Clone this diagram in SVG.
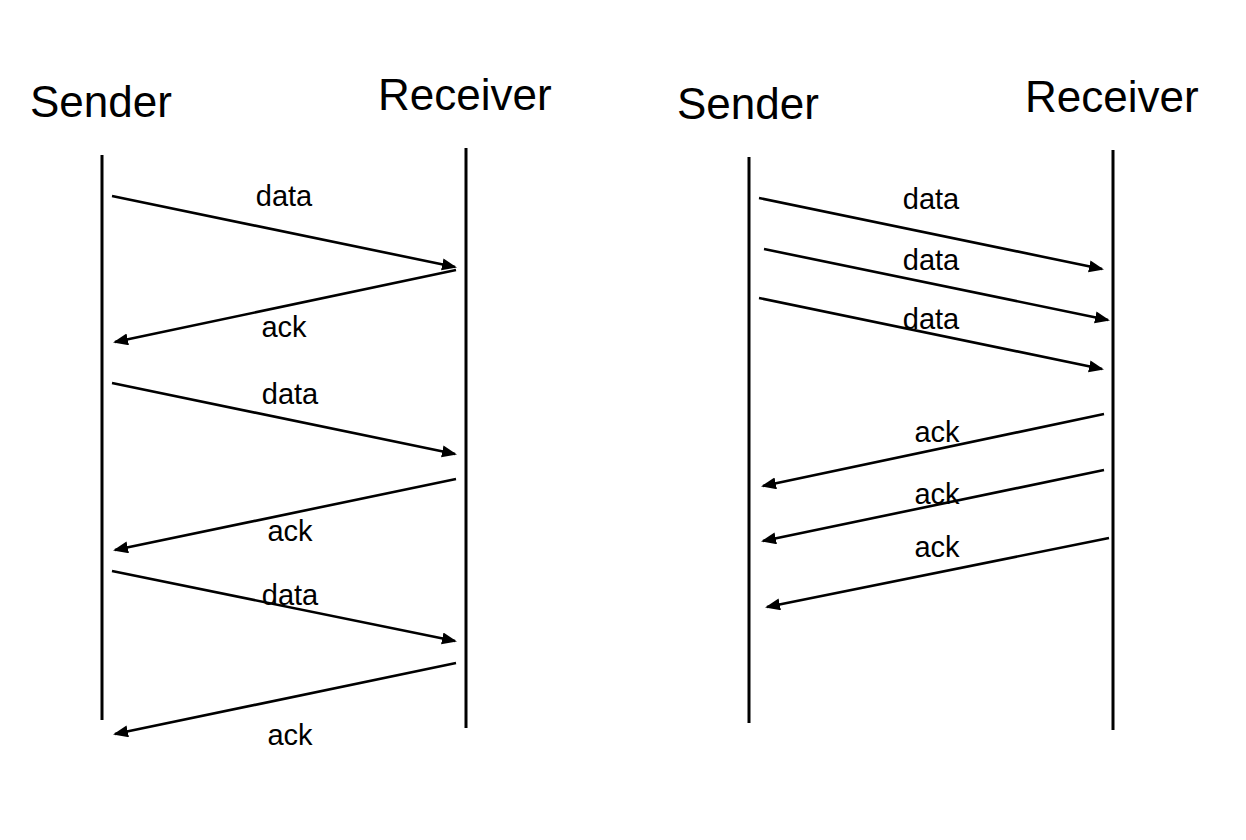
<svg xmlns="http://www.w3.org/2000/svg" width="1246" height="840" viewBox="0 0 1246 840">
<style>
.title{font-family:"Liberation Sans",Arial,sans-serif;font-size:44px;fill:#000}
.lbl{font-family:"Liberation Sans",Arial,sans-serif;font-size:29px;fill:#000;text-anchor:middle}
.life{stroke:#000;stroke-width:3;fill:none}
.msg{stroke:#000;stroke-width:2.6;fill:none;marker-end:url(#ah)}
</style>
<defs>
<marker id="ah" markerUnits="userSpaceOnUse" markerWidth="16" markerHeight="14" refX="13" refY="6" orient="auto">
<path d="M0,0 L15,6 L0,12 Z" fill="#000"/>
</marker>
</defs>
<rect width="1246" height="840" fill="#fff"/>
<g id="left-sender">
<text class="title" x="30" y="117">Sender</text>
<line class="life" x1="102" y1="155" x2="102" y2="720"/>
</g>
<g id="left-receiver">
<text class="title" x="378" y="110">Receiver</text>
<line class="life" x1="466" y1="148" x2="466" y2="728"/>
</g>
<g id="right-sender">
<text class="title" x="677" y="119">Sender</text>
<line class="life" x1="749" y1="157" x2="749" y2="723"/>
</g>
<g id="right-receiver">
<text class="title" x="1025" y="112">Receiver</text>
<line class="life" x1="1113" y1="150" x2="1113" y2="730"/>
</g>
<g id="connectors">
<line class="msg" x1="112" y1="196" x2="455" y2="267"/>
<line class="msg" x1="456" y1="270" x2="115" y2="342"/>
<line class="msg" x1="112" y1="383" x2="455" y2="454"/>
<line class="msg" x1="456" y1="479" x2="115" y2="550"/>
<line class="msg" x1="112" y1="571" x2="455" y2="641"/>
<line class="msg" x1="456" y1="663" x2="115" y2="734"/>
<line class="msg" x1="759" y1="198" x2="1102" y2="269"/>
<line class="msg" x1="764" y1="249" x2="1108" y2="320"/>
<line class="msg" x1="759" y1="298" x2="1102" y2="369"/>
<line class="msg" x1="1104" y1="414" x2="763" y2="486"/>
<line class="msg" x1="1104" y1="470" x2="763" y2="541"/>
<line class="msg" x1="1109" y1="538" x2="767" y2="607"/>
</g>
<g id="labels">
<text class="lbl" x="284" y="206">data</text>
<text class="lbl" x="284" y="337">ack</text>
<text class="lbl" x="290" y="404">data</text>
<text class="lbl" x="290" y="541">ack</text>
<text class="lbl" x="290" y="605">data</text>
<text class="lbl" x="290" y="745">ack</text>
<text class="lbl" x="931" y="209">data</text>
<text class="lbl" x="931" y="270">data</text>
<text class="lbl" x="931" y="329">data</text>
<text class="lbl" x="937" y="442">ack</text>
<text class="lbl" x="937" y="504">ack</text>
<text class="lbl" x="937" y="557">ack</text>
</g>
</svg>
